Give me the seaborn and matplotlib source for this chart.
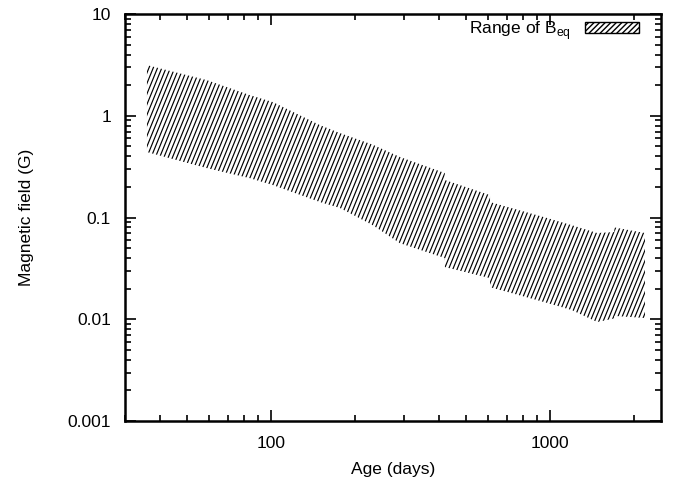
import numpy as np
import matplotlib
matplotlib.use("Agg")
import matplotlib.pyplot as plt
import seaborn as sns
from matplotlib.collections import LineCollection
from matplotlib.patches import Patch

# Range of B_eq
age = [36, 59, 84, 102, 150, 177, 232, 290, 420, 420, 610, 610, 977, 1200, 1476, 1700, 1700, 2190]
b_upper = [3.15, 2.24, 1.60, 1.36, 0.81, 0.676, 0.52, 0.394, 0.274, 0.234, 0.166, 0.142,
           0.099, 0.084, 0.0705, 0.072, 0.080, 0.0705]
b_lower = [0.44, 0.306, 0.244, 0.208, 0.142, 0.124, 0.084, 0.056, 0.040, 0.0326, 0.0254, 0.0207,
           0.0145, 0.0123, 0.0094, 0.0102, 0.0108, 0.0103]

x_ticks = [100, 1000]
x_labels = ["100", "1000"]
y_ticks = [0.001, 0.01, 0.1, 1, 10]
y_labels = ["0.001", "0.01", "0.1", "1", "10"]

sns.set_style("ticks")
plt.rcParams["font.family"] = ["Liberation Sans", "DejaVu Sans"]
plt.rcParams["text.color"] = "black"
plt.rcParams["axes.labelcolor"] = "black"
plt.rcParams["xtick.color"] = "black"
plt.rcParams["ytick.color"] = "black"
plt.rcParams["axes.edgecolor"] = "black"

fig, ax = plt.subplots(figsize=(6.86, 4.84), dpi=100)
fig.subplots_adjust(left=0.182, right=0.9636, top=0.971, bottom=0.130)

ax.set_xscale("log")
ax.set_yscale("log")
ax.set_xlim(30, 2500)
ax.set_ylim(0.001, 10)

band = ax.fill_between(age, b_lower, b_upper, facecolor="none", edgecolor="none", linewidth=0)

# steep hatching like the gnuplot pattern, clipped to the band
segs = [[(x0, 0), (x0 + 0.31, 1)] for x0 in np.arange(-0.4, 1.05, 0.008)]
hatch = LineCollection(segs, colors="black", linewidths=0.85, transform=ax.transAxes)
ax.add_collection(hatch)
hatch.set_clip_path(band.get_paths()[0], band.get_transform())

ax.set_xticks(x_ticks, labels=x_labels)
ax.set_yticks(y_ticks, labels=y_labels)
ax.tick_params(which="both", direction="in", top=True, right=True, labelsize=12.5, width=1.2)
ax.tick_params(which="major", length=8)
ax.tick_params(which="minor", length=4)
ax.tick_params(axis="y", which="major", pad=10)
ax.tick_params(axis="x", which="major", pad=11)
for s in ax.spines.values():
    s.set_linewidth(1.8)

ax.set_xlabel("Age (days)", fontsize=12.5, labelpad=8)
ax.set_ylabel("Magnetic field (G)", fontsize=12.5, labelpad=24)

handle = Patch(facecolor="white", edgecolor="black", hatch="//////", linewidth=1)
ax.legend(handles=[handle], labels=[r"Range of B$_\mathregular{eq}$"], loc="upper right",
          bbox_to_anchor=(0.958, 0.988), frameon=False, markerfirst=False, fontsize=12.5,
          handlelength=3.1, handleheight=0.55, handletextpad=0.8, borderpad=0, borderaxespad=0)

plt.savefig("out.png", dpi=100)
